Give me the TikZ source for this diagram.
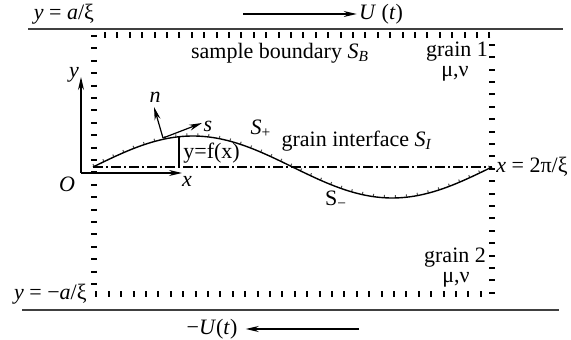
\documentclass[tikz,border=0pt]{standalone}
\usepackage{fontspec}
\setmainfont{Liberation Serif}
\usetikzlibrary{arrows.meta,positioning}

\begin{document}
\begin{tikzpicture}[
    x=0.5pt, y=-0.5pt,
    every node/.style={font=\fontsize{11}{13}\selectfont, inner sep=1pt},
    wall/.style={line width=0.9pt, black!75},
    boundary/.style={line width=3pt, dash pattern=on 1pt off 5.2pt},
    vec/.style={-{Stealth[length=6.5pt,width=3pt]}, line width=0.6pt},
    interface/.style={line width=0.7pt},
    marks/.style={line width=1.1pt, black!70, dash pattern=on 0.5pt off 5pt},
    datum/.style={line width=0.8pt, dash pattern=on 5pt off 1.5pt on 1pt off 1.5pt}
]
\useasboundingbox (0,0) rectangle (571,340);
% walls and prescribed displacement
\coordinate (wallTL) at (28,29);
\coordinate (wallTR) at (563,29);
\coordinate (wallBL) at (22,310);
\coordinate (wallBR) at (559,310);
\draw[wall] (wallTL) -- (wallTR);
\draw[wall] (wallBL) -- (wallBR);
\node (ytop) at (64,14) {\textit{y} = \textit{a}/ξ};
\node (Utop) at (381,14) {\textit{U} (\textit{t})};
\coordinate (uStart) at (243,14);
\draw[vec] (uStart) -- (Utop.west);
\node (Ubot) at (212,329) {−\textit{U}(\textit{t})};
\coordinate (uEnd) at (359,329);
\draw[vec] (uEnd) -- ([xshift=3pt]Ubot.east);
% sample boundary
\coordinate (boxTL) at (94,35);
\coordinate (boxBR) at (492,294);
\draw[boundary] (boxTL) rectangle (boxBR);
\node (ybot) [anchor=east] at (89,294) {\textit{y} = −\textit{a}/ξ};
\node (sample) at (280,53) {sample boundary \textit{S}\textsubscript{\textit{B}}};
\node (grainA) at (457,52) {grain 1};
\node (muA) [below=0pt of grainA, xshift=-1pt] {μ,ν};
\node (grainB) at (455,258) {grain 2};
\node (muB) [below=0pt of grainB, xshift=0.5pt] {μ,ν};
% interface
\coordinate (cL) at (93,167);
\coordinate (cR) at (492,167);
\draw[datum] (cL) -- (cR);
\draw[marks] plot[domain=93:492, samples=90] (\x, {165.3-31*sin((\x-93)/399*360)});
\draw[interface] plot[domain=93:492, samples=90] (\x, {167-31*sin((\x-93)/399*360)});
\node (xend) [anchor=west] at (494,167) {\textit{x} = 2π/ξ};
\node (Splus) at (261,129) {\textit{S}\textsubscript{+}};
\node (Sminus) at (336,200) {S\textsubscript{−}};
\node (SI) at (357,141) {grain interface \textit{S}\textsubscript{\textit{I}}};
% f(x)
\coordinate (fx) at (179,136.7);
\coordinate (fx0) at (179,167);
\draw[line width=0.6pt] (fx) -- (fx0);
\node (fxlabel) [anchor=west] at (181,153) {y=f(x)};
% coordinate axes
\coordinate (O) at (81,173);
\coordinate (xtip) at (182,173);
\coordinate (ytip) at (81,77);
\draw[vec] (O) -- (xtip);
\draw[vec] (O) -- (ytip);
\node (Olabel) at (67,184) {\textit{O}};
\node (xlabel) at (187,181) {\textit{x}};
\node (ylabel) at (74,75) {\textit{y}};
% local frame
\coordinate (P) at (163,138);
\coordinate (ntip) at (154,107);
\coordinate (stip) at (202,123);
\draw[vec] (P) -- (ntip);
\draw[vec] (P) -- (stip);
\node (nlabel) at (155,97) {\textit{n}};
\node (slabel) at (208,126) {\textit{s}};
\end{tikzpicture}
\end{document}
